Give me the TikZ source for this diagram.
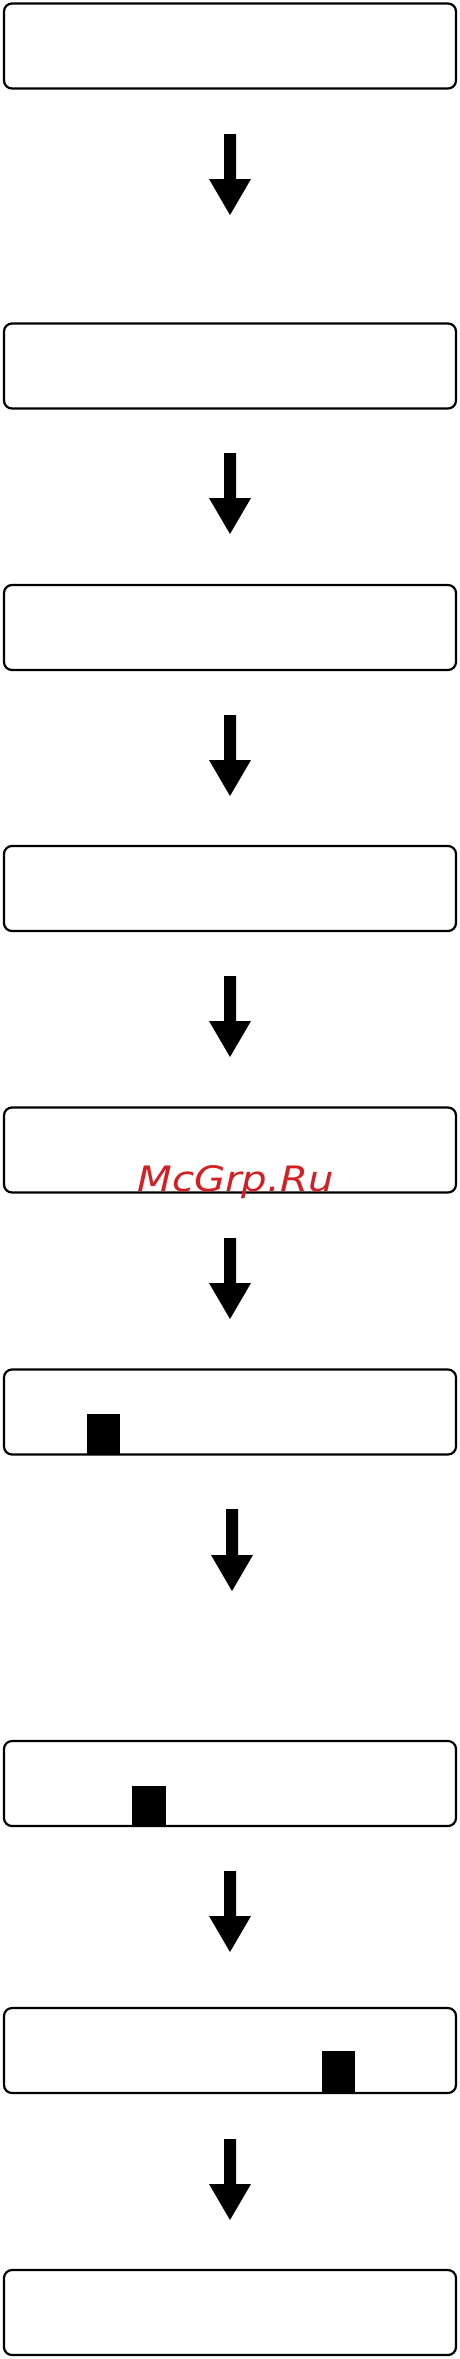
\documentclass[tikz,border=0pt]{standalone}
\usepackage{fontspec}
\newfontfamily\wmfont{DejaVu Sans}
\usetikzlibrary{calc}
\definecolor{wmred}{RGB}{210,32,36}
\tikzset{
  stagebox/.style={draw=black, line width=2.2pt, rounded corners=8pt, minimum width=452pt, minimum height=85pt, inner sep=0pt, fill=white},
  marker/.style={fill=black},
}
\newcommand\flowarrow[2]{%
  \fill let \p1=(#1), \p2=(#2) in
    (\x1-6pt,\y1) -- (\x1+6pt,\y1) -- (\x1+6pt,\y2+36pt) -- (\x1+21pt,\y2+36pt)
    -- (\x2,\y2) -- (\x1-21pt,\y2+36pt) -- (\x1-6pt,\y2+36pt) -- cycle;}
\begin{document}
\begin{tikzpicture}[x=1pt,y=-1pt]
\useasboundingbox (0,0) rectangle (460,2359);
\node[stagebox] (b1) at (230,46) {};
\node[stagebox] (b2) at (230,366) {};
\node[stagebox] (b3) at (230,627.5) {};
\node[stagebox] (b4) at (230,888.5) {};
\node[stagebox] (b5) at (230,1150) {};
\node[stagebox] (b6) at (230,1412) {};
\node[stagebox] (b7) at (230,1783.5) {};
\node[stagebox] (b8) at (230,2050.5) {};
\node[stagebox] (b9) at (230,2312.5) {};
% markers
\fill[marker] (87,1414) rectangle (120,1455);
\fill[marker] (132,1786) rectangle (166,1826.5);
\fill[marker] (322,2051) rectangle (355,2093);
% arrow coordinates
\coordinate (a1s) at (230,134);  \coordinate (a1e) at (230,215);
\coordinate (a2s) at (230,453);  \coordinate (a2e) at (230,534);
\coordinate (a3s) at (230,715);  \coordinate (a3e) at (230,796);
\coordinate (a4s) at (230,976);  \coordinate (a4e) at (230,1057);
\coordinate (a5s) at (230,1238); \coordinate (a5e) at (230,1319);
\coordinate (a6s) at (232,1509); \coordinate (a6e) at (232,1591);
\coordinate (a7s) at (230,1871); \coordinate (a7e) at (230,1952);
\coordinate (a8s) at (230,2139); \coordinate (a8e) at (230,2220);
\flowarrow{a1s}{a1e}
\flowarrow{a2s}{a2e}
\flowarrow{a3s}{a3e}
\flowarrow{a4s}{a4e}
\flowarrow{a5s}{a5e}
\flowarrow{a6s}{a6e}
\flowarrow{a7s}{a7e}
\flowarrow{a8s}{a8e}
% watermark
\node[anchor=base, inner sep=0pt, text=wmred, font=\wmfont\itshape\fontsize{35}{38}\selectfont] (wm) at (235.5,1191) {\scalebox{1.15}[1]{McGrp.Ru}};
\end{tikzpicture}
\end{document}
